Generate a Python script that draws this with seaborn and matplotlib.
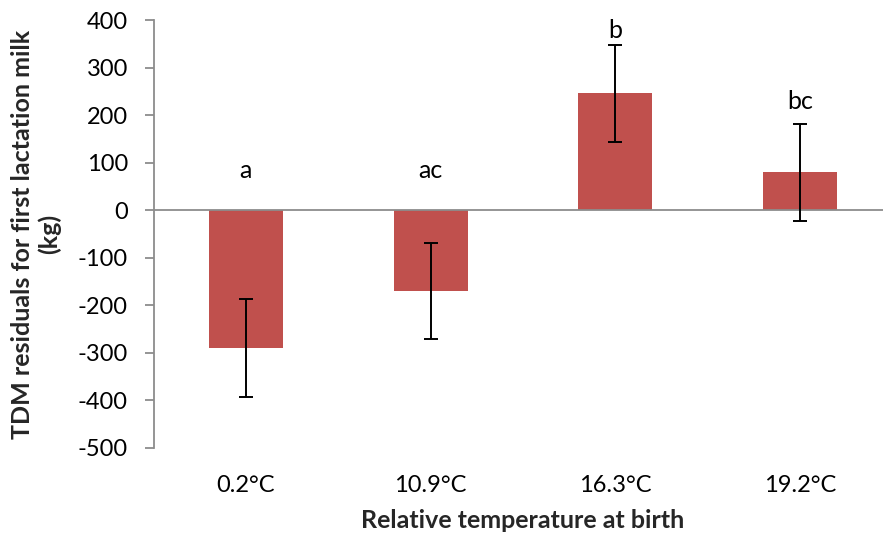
import matplotlib
matplotlib.use("Agg")
import matplotlib.pyplot as plt
import seaborn as sns
import pandas as pd

# Data
categories = ["0.2°C", "10.9°C", "16.3°C", "19.2°C"]
residuals = [-290, -170, 246, 80]
errors = [103, 102, 103, 102]
letters = ["a", "ac", "b", "bc"]
letter_y = [84, 84, 379, 228]

df = pd.DataFrame({"temp": categories, "resid": residuals})

sns.set_theme(style="white")
plt.rcParams["font.family"] = ["Lato", "DejaVu Sans"]
plt.rcParams["axes.unicode_minus"] = False

fig = plt.figure(figsize=(8.83, 5.39), dpi=100)
ax = fig.add_axes([153.5 / 883, 1 - 447.7 / 539, (892.5 - 153.5) / 883, (447.7 - 20.3) / 539])

bar_color = "#C0504D"
sns.barplot(data=df, x="temp", y="resid", color=bar_color, saturation=1,
            width=0.4, ax=ax, errorbar=None, edgecolor="none")
ax.errorbar(range(len(categories)), residuals, yerr=errors, fmt="none",
            ecolor="black", elinewidth=1.4, capsize=5, capthick=1.4, zorder=5)

for i, (lab, yv) in enumerate(zip(letters, letter_y)):
    ax.text(i, yv, lab, ha="center", va="center", fontsize=18, color="black")

ax.set_ylim(-500, 400)
ax.set_xlim(-0.5, 3.5)
ax.set_yticks(range(-500, 401, 100))
ax.axhline(0, color="#8c8c8c", lw=1.3, zorder=1)

for s in ["top", "right", "bottom"]:
    ax.spines[s].set_visible(False)
ax.spines["left"].set_color("#8c8c8c")
ax.spines["left"].set_linewidth(1.3)

ax.tick_params(axis="y", direction="out", length=6.5, width=1.3, color="#8c8c8c",
               pad=12, labelsize=17, labelcolor="black", left=True)
ax.tick_params(axis="x", length=0, pad=20, labelsize=17, labelcolor="black")

ax.set_xlabel("Relative temperature at birth", fontsize=18, fontweight="bold", labelpad=9)
ax.set_ylabel("TDM residuals for first lactation milk\n(kg)", fontsize=18,
              fontweight="bold", labelpad=12, linespacing=1.15)

fig.savefig("out.png", dpi=100)
